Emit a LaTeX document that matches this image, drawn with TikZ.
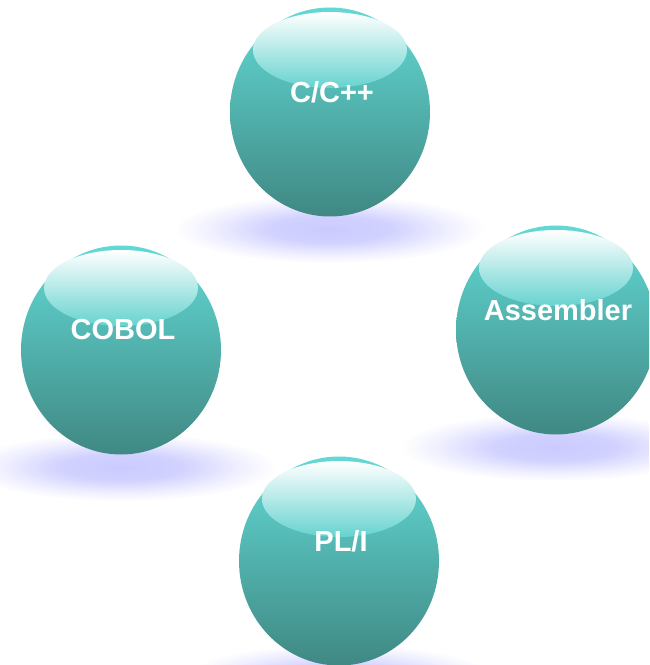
\documentclass[tikz,border=0pt]{standalone}
\usepackage{fontspec}
\setmainfont{Liberation Sans}

\definecolor{balltop}{HTML}{62D9D5}
\definecolor{ballmid}{HTML}{54B4AF}
\definecolor{ballbot}{HTML}{408883}
\definecolor{glintbot}{HTML}{66D3CF}
\definecolor{haze}{HTML}{CACAFF}

% soft lavender glow for the shadows
\pgfdeclareradialshading{haze glow}{\pgfpoint{0bp}{0bp}}{%
  color(0bp)=(haze); color(10bp)=(haze!85!white);
  color(19bp)=(haze!30!white); color(25bp)=(white); color(50bp)=(white)}

\tikzset{
  ball/.style={top color=balltop, middle color=ballmid, bottom color=ballbot},
  glint/.style={top color=white, bottom color=glintbot},
  ball label/.style={text=white, font=\fontsize{16.5}{18}\selectfont\bfseries, inner sep=0pt}
}

\begin{document}
\begin{tikzpicture}[x=0.02cm, y=-0.02cm]

    % Page frame, in pixels of the reference
    \clip (0,0) rectangle (649,665);
    \fill[white] (0,0) rectangle (649,665);

    % Shadows under the balls
    \foreach \px/\py in {330/112, 121/350, 556/330, 339/561}
        \shade[shading=haze glow] (\px,\py+117) ellipse [x radius=155, y radius=34];

    % Balls, their glint and the language names
    \foreach \nm/\px/\py/\lbl in {cpp/330/112/{C/C++}, cobol/121/350/{COBOL},
                                  asm/556/330/{Assembler}, pli/339/561/{PL/I}}{
        \shade[ball] (\px,\py) ellipse [x radius=100, y radius=104.5];
        \shade[glint] (\px,\py-62) ellipse [x radius=77, y radius=38];
        \node[ball label] (\nm) at (\px+2,\py-20) {\lbl};
    }

\end{tikzpicture}
\end{document}
